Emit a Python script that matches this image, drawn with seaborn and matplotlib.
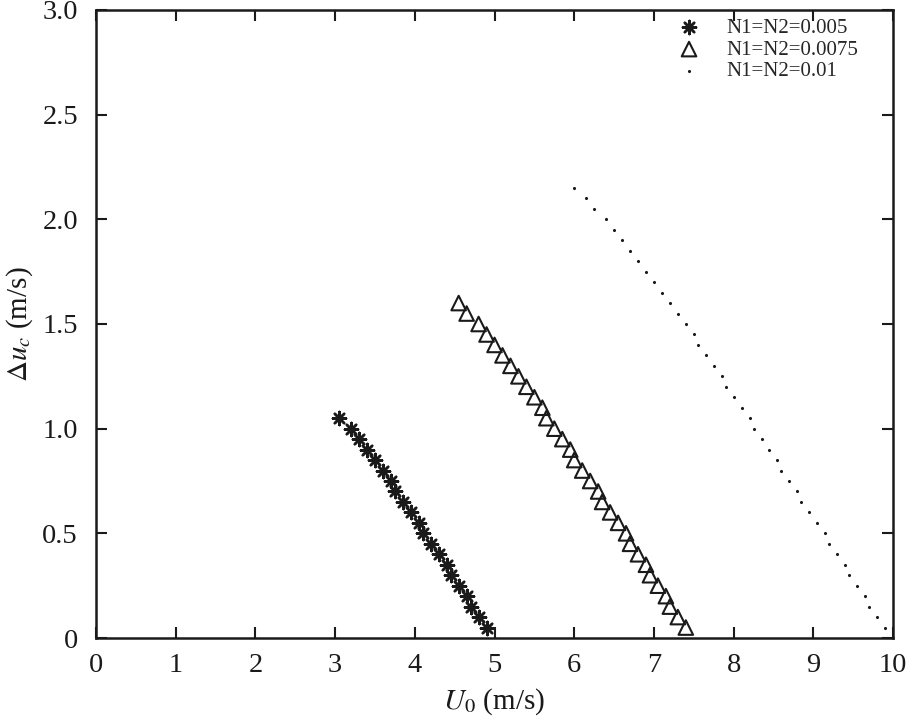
import pandas as pd
import numpy as np
import matplotlib.pyplot as plt
import seaborn as sns

# N1=N2=0.005
u0_a = [3.05, 3.2, 3.3, 3.4, 3.5, 3.6, 3.7, 3.75, 3.85, 3.95, 4.05,
        4.1, 4.2, 4.3, 4.4, 4.45, 4.55, 4.65, 4.7, 4.8, 4.9]
du_a = [1.05, 1.0, 0.95, 0.9, 0.85, 0.8, 0.75, 0.7, 0.65, 0.6, 0.55,
        0.5, 0.45, 0.4, 0.35, 0.3, 0.25, 0.2, 0.15, 0.1, 0.05]

# N1=N2=0.0075
u0_b = [4.55, 4.65, 4.8, 4.9, 5.0, 5.1, 5.2, 5.3, 5.4, 5.5, 5.6, 5.65,
        5.75, 5.85, 5.95, 6.0, 6.1, 6.2, 6.3, 6.35, 6.45, 6.55, 6.65, 6.7,
        6.8, 6.9, 6.95, 7.05, 7.15, 7.2, 7.3, 7.4]
du_b = [1.6, 1.55, 1.5, 1.45, 1.4, 1.35, 1.3, 1.25, 1.2, 1.15, 1.1, 1.05,
        1.0, 0.95, 0.9, 0.85, 0.8, 0.75, 0.7, 0.65, 0.6, 0.55, 0.5, 0.45,
        0.4, 0.35, 0.3, 0.25, 0.2, 0.15, 0.1, 0.05]

# N1=N2=0.01
u0_c = [6.0, 6.15, 6.25, 6.4, 6.5, 6.6, 6.7, 6.8, 6.9, 7.0, 7.1, 7.2,
        7.3, 7.4, 7.5, 7.55, 7.65, 7.75, 7.85, 7.9, 8.0, 8.1, 8.2, 8.25,
        8.35, 8.45, 8.55, 8.6, 8.7, 8.8, 8.85, 8.95, 9.05, 9.15, 9.2, 9.3,
        9.4, 9.45, 9.55, 9.65, 9.7, 9.8, 9.9]
du_c = [2.15, 2.1, 2.05, 2.0, 1.95, 1.9, 1.85, 1.8, 1.75, 1.7, 1.65, 1.6,
        1.55, 1.5, 1.45, 1.4, 1.35, 1.3, 1.25, 1.2, 1.15, 1.1, 1.05, 1.0,
        0.95, 0.9, 0.85, 0.8, 0.75, 0.7, 0.65, 0.6, 0.55, 0.5, 0.45, 0.4,
        0.35, 0.3, 0.25, 0.2, 0.15, 0.1, 0.05]

labels = ["N1=N2=0.005", "N1=N2=0.0075", "N1=N2=0.01"]
xticks = [0, 1, 2, 3, 4, 5, 6, 7, 8, 9, 10]
yticks = [0, 0.5, 1.0, 1.5, 2.0, 2.5, 3.0]
yticklabels = ["0", "0.5", "1.0", "1.5", "2.0", "2.5", "3.0"]

df_a = pd.DataFrame({"U0": u0_a, "du": du_a})
df_b = pd.DataFrame({"U0": u0_b, "du": du_b})
df_c = pd.DataFrame({"U0": u0_c, "du": du_c})

sns.set_style("ticks")
plt.rcParams["font.family"] = ["Liberation Serif", "DejaVu Serif"]
plt.rcParams["mathtext.fontset"] = "stix"

fig = plt.figure(figsize=(9.12, 7.18), dpi=100)
ax = fig.add_axes([0.1053, 0.1114, 0.8739, 0.8747])

sns.scatterplot(data=df_a, x="U0", y="du", ax=ax, marker=(8, 2, 0),
                s=90, color="#1a1a1a", linewidth=1.8, label=labels[0])
sns.scatterplot(data=df_b, x="U0", y="du", ax=ax, marker="^",
                s=110, facecolor="none", edgecolor="#1a1a1a",
                linewidth=1.5, label=labels[1])
sns.scatterplot(data=df_c, x="U0", y="du", ax=ax, marker="o",
                s=5, color="#1a1a1a", linewidth=0, label=labels[2])

ax.set_xlim(0, 10)
ax.set_ylim(0, 3.0)
ax.set_xticks(xticks)
ax.set_yticks(yticks)
ax.set_yticklabels(yticklabels)
ax.tick_params(direction="in", length=8, width=1.5, top=True, right=True,
               labelsize=20.5, colors="#1a1a1a")
ax.tick_params(axis="x", pad=11)
ax.tick_params(axis="y", pad=13)
for sp in ax.spines.values():
    sp.set_visible(True)
    sp.set_linewidth(1.8)
    sp.set_color("#1a1a1a")

ax.set_xlabel(r"$U_0$ (m/s)", fontsize=21, color="#1a1a1a", labelpad=6)
ax.set_ylabel(r"$\Delta u_c$ (m/s)", fontsize=21, color="#1a1a1a", labelpad=5)

ax.legend(loc="upper right", frameon=False, fontsize=15, labelspacing=0.1,
          handletextpad=0.8, borderaxespad=0.0, bbox_to_anchor=(0.967, 1.0))

fig.savefig("out.png", dpi=100)
